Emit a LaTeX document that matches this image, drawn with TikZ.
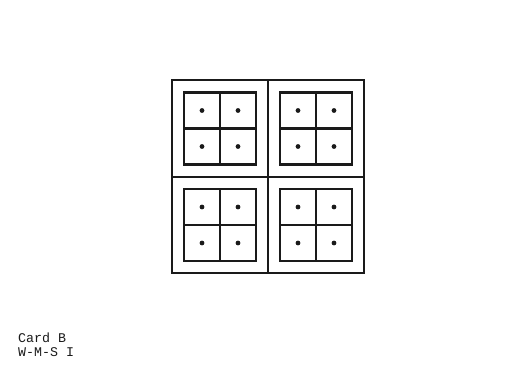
\documentclass[tikz,border=0pt]{standalone}
\usepackage{fontspec}
\newfontfamily\cardfont{Liberation Mono}
\usetikzlibrary{positioning}
\definecolor{Ink}{HTML}{1A1A1A}
\tikzset{
  frame/.style={draw=Ink,line width=2pt},
  cellbox/.style={draw=Ink,line width=2.6pt},
  pip/.style={fill=Ink,draw=none},
  tag/.style={font=\cardfont\fontsize{13.3}{14}\selectfont,text=Ink,anchor=base west,inner sep=0pt},
}
\begin{document}
\begin{tikzpicture}[x=1pt,y=-1pt,line join=miter]
\useasboundingbox (0,0) rectangle (505,374);
% outer card with its four quarters
\draw[frame] (172,80) rectangle (364,273);
\draw[frame] (268,80)--(268,273) (172,177)--(364,177);
% a 2x2 box with a pip in every cell, one per quarter
\foreach \cx in {220,316}{
  \foreach \cy in {128.5,225}{
    \draw[cellbox] (\cx-36,\cy-36) rectangle (\cx+36,\cy+36);
    \draw[cellbox] (\cx,\cy-36)--(\cx,\cy+36) (\cx-36,\cy)--(\cx+36,\cy);
    \foreach \dx in {-18,18}{
      \foreach \dy in {-18,18}{
        \fill[pip] (\cx+\dx,\cy+\dy) circle (2.4);
      }
    }
  }
}
\node[tag] (card) at (18,342) {Card B};
\node[tag] (wms) at (18,356) {W-M-S I};
\end{tikzpicture}
\end{document}
